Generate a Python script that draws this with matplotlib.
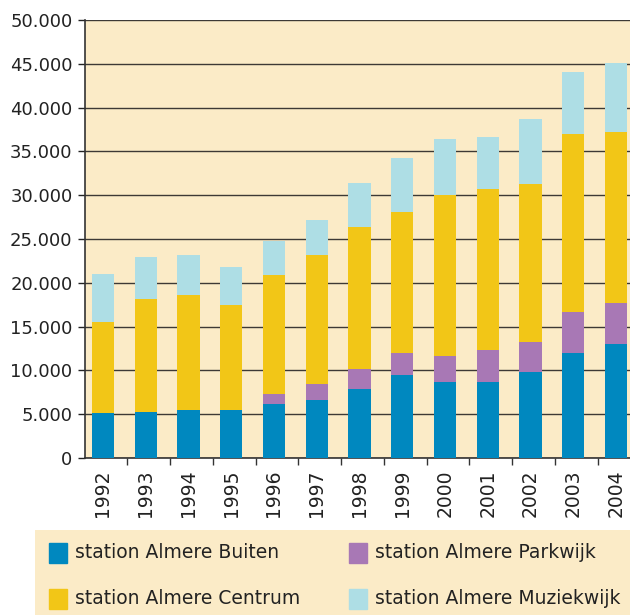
import matplotlib.pyplot as plt
import numpy as np
from matplotlib.ticker import FuncFormatter, FixedLocator
from matplotlib.patches import Rectangle

years = ['1992', '1993', '1994', '1995', '1996', '1997', '1998',
         '1999', '2000', '2001', '2002', '2003', '2004']
# segment sizes (stack tops minus the segment below)
buiten = [5150, 5270, 5490, 5490, 6170, 6630, 7880, 9470, 8670, 8670, 9810, 11970, 12990]
parkwijk = [0, 0, 0, 0, 1140, 1820, 2270, 2500, 2960, 3640, 3410, 4660, 4660]
centrum = [10340, 12830, 13110, 11970, 13560, 14770, 16250, 16140, 18410, 18410, 18070, 20340, 19550]
muziekwijk = [5460, 4890, 4620, 4400, 3940, 3980, 5000, 6130, 6360, 5910, 7380, 7060, 7840]

labels = ['station Almere Buiten', 'station Almere Parkwijk',
          'station Almere Centrum', 'station Almere Muziekwijk']
colors = ['#0088bf', '#a878b5', '#f2c617', '#aedee5']
bg = '#fbebc7'

plt.rcParams['font.family'] = 'DejaVu Sans'

fig = plt.figure(figsize=(6.3, 6.15), dpi=100)
ax = fig.add_axes([85/630, 1 - 458/615, 545/630, 438/615])
ax.set_facecolor(bg)

x = np.arange(len(years))
w = 0.52
bottom = np.zeros(len(years))
for vals, c in zip([buiten, parkwijk, centrum, muziekwijk], colors):
    ax.bar(x, vals, w, bottom=bottom, color=c, zorder=3)
    bottom += np.array(vals)

ax.set_xlim(-0.42, 12.33)
ax.set_ylim(0, 50000)
ax.set_yticks(np.arange(0, 50001, 5000))
ax.yaxis.set_major_formatter(FuncFormatter(lambda v, p: f'{int(v):,}'.replace(',', '.')))
ax.grid(axis='y', color='#3d3935', lw=1.0, zorder=1)

ax.set_xticks(x)
ax.set_xticklabels(years, rotation=90)
ax.xaxis.set_minor_locator(FixedLocator(np.arange(0, 12) + 0.57))
ax.tick_params(axis='x', which='major', length=0, pad=8, labelsize=13.5, colors='#222')
ax.tick_params(axis='x', which='minor', length=5, width=1, color='#333')
ax.tick_params(axis='y', length=5, width=1, labelsize=13, colors='#222', pad=4)

for s in ['top', 'right']:
    ax.spines[s].set_visible(False)
ax.spines['left'].set_color('#333')
ax.spines['bottom'].set_color('#333')
ax.spines['left'].set_linewidth(1.2)
ax.spines['bottom'].set_linewidth(1.2)

# legend box
lax = fig.add_axes([35/630, 0, 595/630, 85/615])
lax.set_xlim(35, 630)
lax.set_ylim(615, 530)
lax.axis('off')
lax.add_patch(Rectangle((35, 530), 595, 85, color=bg, zorder=0))
pos = [(49, 553), (349, 553), (49, 599), (349, 599)]
for (px, py), lab, c in zip(pos, labels, colors):
    lax.add_patch(Rectangle((px, py - 10), 18, 20, color=c))
    lax.text(px + 26, py, lab, fontsize=13.5, va='center', ha='left', color='#222')

fig.savefig('out.png', dpi=100)
